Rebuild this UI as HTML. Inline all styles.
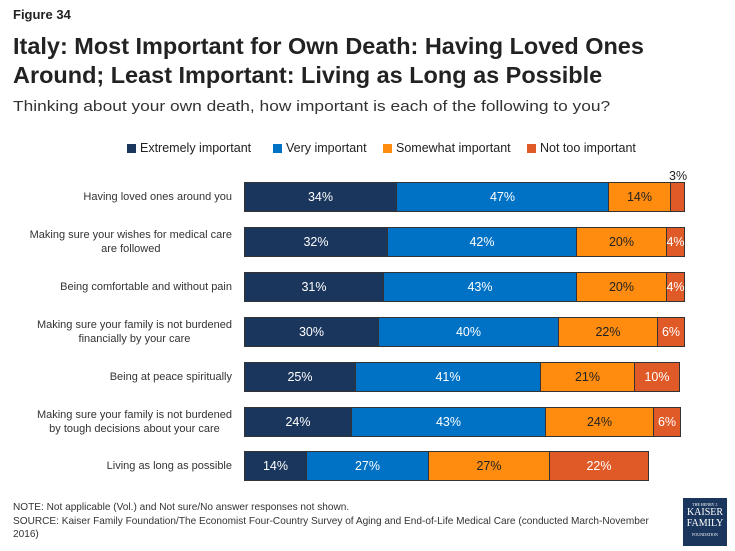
<!DOCTYPE html><html><head><style>
body{margin:0;width:735px;height:551px;background:#fff;font-family:"Liberation Sans",sans-serif;position:relative;overflow:hidden;color:#222}
.a{position:absolute}
.lab{position:absolute;right:503px;max-width:205px;text-align:center;font-size:11px;line-height:14px;color:#333}
.bar{position:absolute;height:30px;display:flex}
.bar div{height:30px;box-sizing:border-box;border:1px solid #333;border-left:none;display:flex;align-items:center;justify-content:center;font-size:12.5px}
.bar div:first-child{border-left:1px solid #333}
.e{background:#1b365d;color:#fff}.v{background:#0072c6;color:#fff}.s{background:#ff8c0f;color:#222}.n{background:#e05a27;color:#fff}
.lg{position:absolute;top:141px;font-size:12.5px;color:#222;display:flex;align-items:center}
.lg span{display:inline-block;width:9px;height:9px;margin-right:4px}
</style></head><body>
<div class="a" style="left:13px;top:7px;font-size:13px;font-weight:bold">Figure 34</div>
<div class="a" style="left:13px;top:32px;font-size:23px;font-weight:bold;line-height:29px;width:800px;transform:scaleX(1.02);transform-origin:left top;white-space:nowrap">Italy: Most Important for Own Death: Having Loved Ones<br>Around; Least Important: Living as Long as Possible</div>
<div class="a" style="left:13px;top:98px;font-size:15px;color:#333;transform:scaleX(1.155);transform-origin:left top;white-space:nowrap">Thinking about your own death, how important is each of the following to you?</div>
<div class="lg" style="left:127px"><span style="background:#1b365d"></span>Extremely important</div>
<div class="lg" style="left:273px"><span style="background:#0072c6"></span>Very important</div>
<div class="lg" style="left:383px"><span style="background:#ff8c0f"></span>Somewhat important</div>
<div class="lg" style="left:527px"><span style="background:#e05a27"></span>Not too important</div>

<div class="lab" style="top:190px">Having loved ones around you</div>
<div class="bar" style="left:244px;top:182px"><div class="e" style="width:153px">34%</div><div class="v" style="width:212px">47%</div><div class="s" style="width:62px">14%</div><div class="n" style="width:14px"></div></div>
<div class="a" style="left:669px;top:169px;font-size:12.5px">3%</div>

<div class="lab" style="top:228px">Making sure your wishes for medical care<br>are followed</div>
<div class="bar" style="left:244px;top:227px"><div class="e" style="width:144px">32%</div><div class="v" style="width:189px">42%</div><div class="s" style="width:90px">20%</div><div class="n" style="width:18px">4%</div></div>

<div class="lab" style="top:280px">Being comfortable and without pain</div>
<div class="bar" style="left:244px;top:272px"><div class="e" style="width:140px">31%</div><div class="v" style="width:193px">43%</div><div class="s" style="width:90px">20%</div><div class="n" style="width:18px">4%</div></div>

<div class="lab" style="top:318px">Making sure your family is not burdened<br>financially by your care</div>
<div class="bar" style="left:244px;top:317px"><div class="e" style="width:135px">30%</div><div class="v" style="width:180px">40%</div><div class="s" style="width:99px">22%</div><div class="n" style="width:27px">6%</div></div>

<div class="lab" style="top:370px">Being at peace spiritually</div>
<div class="bar" style="left:244px;top:362px"><div class="e" style="width:112px">25%</div><div class="v" style="width:185px">41%</div><div class="s" style="width:94px">21%</div><div class="n" style="width:45px">10%</div></div>

<div class="lab" style="top:408px">Making sure your family is not burdened<br>by tough decisions about your care</div>
<div class="bar" style="left:244px;top:407px"><div class="e" style="width:108px">24%</div><div class="v" style="width:194px">43%</div><div class="s" style="width:108px">24%</div><div class="n" style="width:27px">6%</div></div>

<div class="lab" style="top:459px">Living as long as possible</div>
<div class="bar" style="left:244px;top:451px"><div class="e" style="width:63px">14%</div><div class="v" style="width:122px">27%</div><div class="s" style="width:121px">27%</div><div class="n" style="width:99px">22%</div></div>

<div class="a" style="left:13px;top:501px;font-size:10.5px;color:#333;line-height:13.5px;white-space:nowrap;transform:scaleX(0.96);transform-origin:left top">NOTE: Not applicable (Vol.) and Not sure/No answer responses not shown.<br>SOURCE: Kaiser Family Foundation/The Economist Four-Country Survey of Aging and End-of-Life Medical Care (conducted March-November<br>2016)</div>
<div class="a" style="left:683px;top:498px;width:44px;height:48px;background:#1b365d;color:#fff;text-align:center;font-family:'Liberation Serif',serif">
<div style="font-size:4px;margin-top:4px">THE HENRY J.</div>
<div style="font-size:10px;line-height:11px">KAISER<br>FAMILY</div>
<div style="font-size:4px;margin-top:3px">FOUNDATION</div></div>
</body></html>
